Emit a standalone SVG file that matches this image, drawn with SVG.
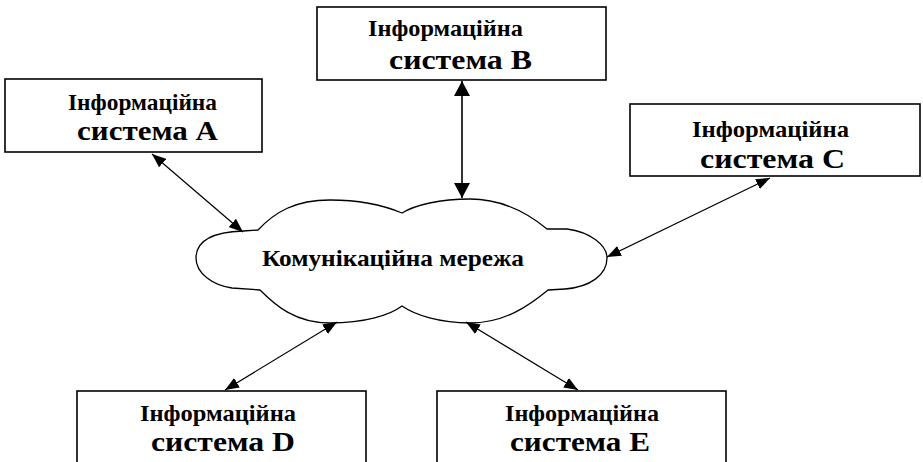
<svg xmlns="http://www.w3.org/2000/svg" width="923" height="462" viewBox="0 0 923 462">
<defs>
<style>
.box{fill:#fff;stroke:#000;stroke-width:1.6}
.t1{font-family:"Liberation Serif","Times New Roman",serif;font-weight:bold;font-size:24px;fill:#000}
.t2{font-family:"Liberation Serif","Times New Roman",serif;font-weight:bold;font-size:27px;fill:#000}
.tc{font-family:"Liberation Serif","Times New Roman",serif;font-weight:bold;font-size:24px;fill:#000}
.con{stroke:#000;stroke-width:1.2;fill:none;marker-start:url(#ah);marker-end:url(#ah)}
.vcon{stroke:#000;stroke-width:1.6;fill:none;marker-start:url(#ahb);marker-end:url(#ahb)}
.cloud{fill:#fff;stroke:#000;stroke-width:1.3}
</style>
<marker id="ah" viewBox="0 0 14 11" refX="14" refY="5.5" markerWidth="14" markerHeight="11" markerUnits="userSpaceOnUse" orient="auto-start-reverse">
<path d="M0,0 L14,5.5 L0,11 Z" fill="#000"/>
</marker>
<marker id="ahb" viewBox="0 0 15 16" refX="15" refY="8" markerWidth="15" markerHeight="16" markerUnits="userSpaceOnUse" orient="auto-start-reverse">
<path d="M0,0 L15,8 L0,16 Z" fill="#000"/>
</marker>
</defs>
<rect width="923" height="462" fill="#fff"/>
<g id="cloud">
<path class="cloud" d="M196,258 C196,240 215,232 243,231 L258,230 C275,212 295,200 330,200 C365,200 390,208 402,213 C415,205 440,199 470,199 C505,199 530,215 547,229 L567,229 C590,232 607,245 607,258 C607,275 590,287 565,289 L548,290 C530,305 505,323 470,323 C440,323 415,315 402,306 C390,315 365,323 330,323 C295,323 275,305 260,290 L232,288 C212,285 196,273 196,258 Z"/>
<text class="tc" x="262" y="266" textLength="262" lengthAdjust="spacingAndGlyphs">Комунікаційна мережа</text>
</g>
<g id="sysA">
<rect class="box" x="5" y="79" width="257" height="73"/>
<text class="t1" x="68" y="110" textLength="149" lengthAdjust="spacingAndGlyphs">Інформаційна</text>
<text class="t2" x="77" y="140" textLength="141" lengthAdjust="spacingAndGlyphs">система А</text>
</g>
<g id="sysB">
<rect class="box" x="317" y="7" width="289" height="73"/>
<text class="t1" x="368" y="36" textLength="155" lengthAdjust="spacingAndGlyphs">Інформаційна</text>
<text class="t2" x="389" y="69" textLength="143" lengthAdjust="spacingAndGlyphs">система В</text>
</g>
<g id="sysC">
<rect class="box" x="630" y="104" width="290" height="72"/>
<text class="t1" x="692" y="137" textLength="157" lengthAdjust="spacingAndGlyphs">Інформаційна</text>
<text class="t2" x="700" y="168" textLength="145" lengthAdjust="spacingAndGlyphs">система С</text>
</g>
<g id="sysD">
<rect class="box" x="77" y="391" width="289" height="80"/>
<text class="t1" x="140" y="421" textLength="156" lengthAdjust="spacingAndGlyphs">Інформаційна</text>
<text class="t2" x="151" y="451" textLength="144" lengthAdjust="spacingAndGlyphs">система D</text>
</g>
<g id="sysE">
<rect class="box" x="437" y="391" width="289" height="80"/>
<text class="t1" x="505" y="421" textLength="154" lengthAdjust="spacingAndGlyphs">Інформаційна</text>
<text class="t2" x="510" y="451" textLength="140" lengthAdjust="spacingAndGlyphs">система E</text>
</g>
<g id="connectors">
<line class="con" x1="152" y1="154" x2="243" y2="232"/>
<line class="vcon" x1="462" y1="81" x2="462" y2="198"/>
<line class="con" x1="770" y1="178" x2="607" y2="257"/>
<line class="con" x1="337" y1="322" x2="225" y2="390"/>
<line class="con" x1="466" y1="322" x2="578" y2="390"/>
</g>
</svg>
